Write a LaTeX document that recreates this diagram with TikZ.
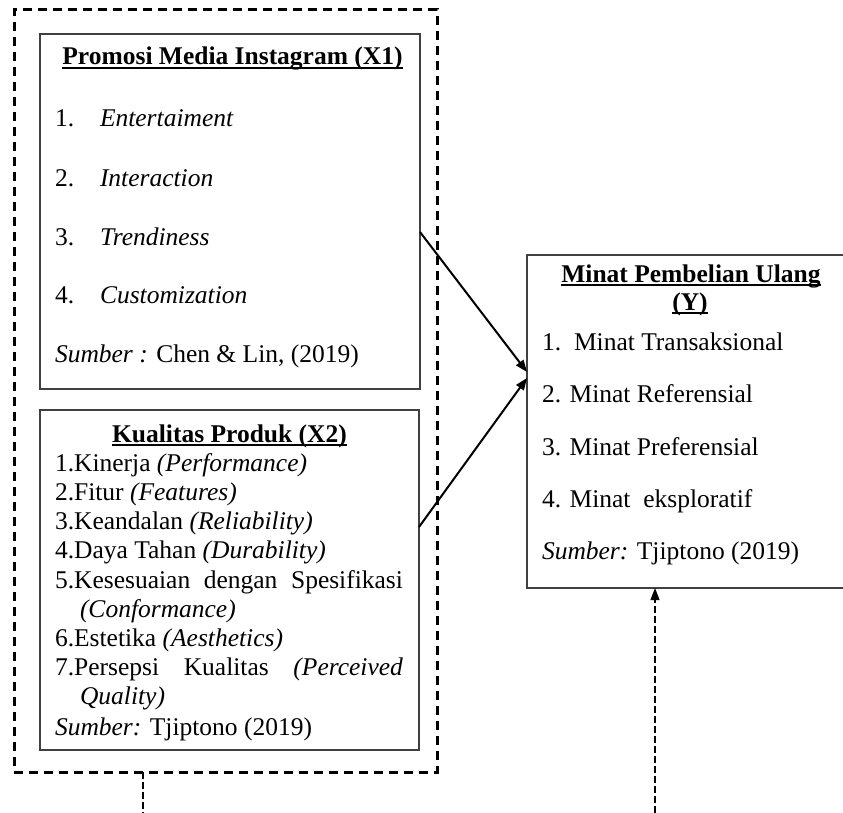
\documentclass[tikz,border=0pt]{standalone}
\usepackage{fontspec}
\setmainfont{Liberation Serif}
\usetikzlibrary{arrows.meta,calc}
\definecolor{boxgray}{HTML}{404040}
\begin{document}
\begin{tikzpicture}[x=1pt,y=-1pt,
  font=\fontsize{25.5}{29}\selectfont,
  box/.style={draw=boxgray,line width=1.4pt,rectangle,inner sep=0pt,outer sep=0pt},
  outerbox/.style={draw=black,line width=3pt,dash pattern=on 9pt off 6pt,rectangle,inner sep=0pt,outer sep=0pt},
  txt/.style={inner sep=0pt,outer sep=0pt,anchor=base west},
  ttl/.style={inner sep=0pt,outer sep=0pt,anchor=base,font=\fontsize{25.5}{29}\selectfont\bfseries},
  uline/.style={line width=1.4pt},
  solidarrow/.style={line width=2pt,-{Triangle[length=12pt,width=9pt]}},
  thindash/.style={line width=1.2pt,dash pattern=on 7pt off 3pt},
  dasharrow/.style={line width=1.2pt,dash pattern=on 7pt off 3pt,-{Triangle[length=12pt,width=9pt]}}
]
\useasboundingbox (0,0) rectangle (843,813);
\clip (0,0) rectangle (843,813);
\fill[white] (0,0) rectangle (843,813);

% boxes
\node[outerbox,minimum width=423pt,minimum height=762pt] (outer) at (225.5,391) {};
\node[box,minimum width=380pt,minimum height=355pt] (x1) at (230,211.5) {};
\node[box,minimum width=379pt,minimum height=340pt] (x2) at (229.5,580) {};
\node[box,minimum width=320pt,minimum height=333pt] (y) at (687,421.5) {};

% X1 texts
\node[ttl] (t1) at (232.5,65) {Promosi Media Instagram (X1)};
\draw[uline] ([yshift=-3pt]t1.base west) -- ([yshift=-3pt]t1.base east);
\node[txt] (a1n) at (55,127) {1.};
\node[txt] (a1) at (100,127) {\itshape Entertaiment};
\node[txt] (a2n) at (55,186) {2.};
\node[txt] (a2) at (100,186) {\itshape Interaction};
\node[txt] (a3n) at (55,245) {3.};
\node[txt] (a3) at (100,245) {\itshape Trendiness};
\node[txt] (a4n) at (55,303) {4.};
\node[txt] (a4) at (100,303) {\itshape Customization};
\node[txt] (a5) at (55,362) {\textit{Sumber :} Chen \& Lin, (2019)};

% X2 texts
\node[ttl] (t2) at (229.5,442) {Kualitas Produk (X2)};
\draw[uline] ([yshift=-3pt]t2.base west) -- ([yshift=-3pt]t2.base east);
\node[txt] (b1) at (55,471) {1.Kinerja \textit{(Performance)}};
\node[txt] (b2) at (55,500) {2.Fitur \textit{(Features)}};
\node[txt] (b3) at (55,529) {3.Keandalan \textit{(Reliability)}};
\node[txt] (b4) at (55,558.5) {4.Daya Tahan \textit{(Durability)}};
\node[txt] (b5) at (55,588) {\makebox[348pt][s]{5.Kesesuaian dengan Spesifikasi}};
\node[txt] (b5b) at (80,617) {\textit{(Conformance)}};
\node[txt] (b6) at (55,646.5) {6.Estetika \textit{(Aesthetics)}};
\node[txt] (b7) at (55,675.5) {\makebox[348pt][s]{7.Persepsi Kualitas \textit{(Perceived}}};
\node[txt] (b7b) at (80,704.5) {\textit{Quality)}};
\node[txt] (b8) at (55,735) {\textit{Sumber:} Tjiptono (2019)};

% Y texts
\node[ttl] (t3) at (691,282) {Minat Pembelian Ulang};
\draw[uline] ([yshift=-3pt]t3.base west) -- ([yshift=-3pt]t3.base east);
\node[ttl] (t4) at (690,310) {(Y)};
\draw[uline] ([yshift=-3pt]t4.base west) -- ([yshift=-3pt]t4.base east);
\node[txt] (c1n) at (542,350) {1.};
\node[txt] (c1) at (574,350) {Minat Transaksional};
\node[txt] (c2) at (542,402) {2. Minat Referensial};
\node[txt] (c3) at (542,455) {3. Minat Preferensial};
\node[txt] (c4) at (542,507) {4. Minat\ \ eksploratif};
\node[txt] (c5) at (542,559) {\textit{Sumber:} Tjiptono (2019)};

% connectors
\draw[solidarrow] ([yshift=-20.5pt]x1.east) -- ([yshift=49.5pt]y.west);
\draw[solidarrow] ([yshift=53pt]x2.east) -- ([yshift=43.5pt]y.west);
\coordinate (d1) at (143,813);
\coordinate (d2) at (655,813);
\draw[thindash] (outer.south -| d1) -- (d1);
\draw[dasharrow] (d2) -- (y.south -| d2);
\end{tikzpicture}
\end{document}
